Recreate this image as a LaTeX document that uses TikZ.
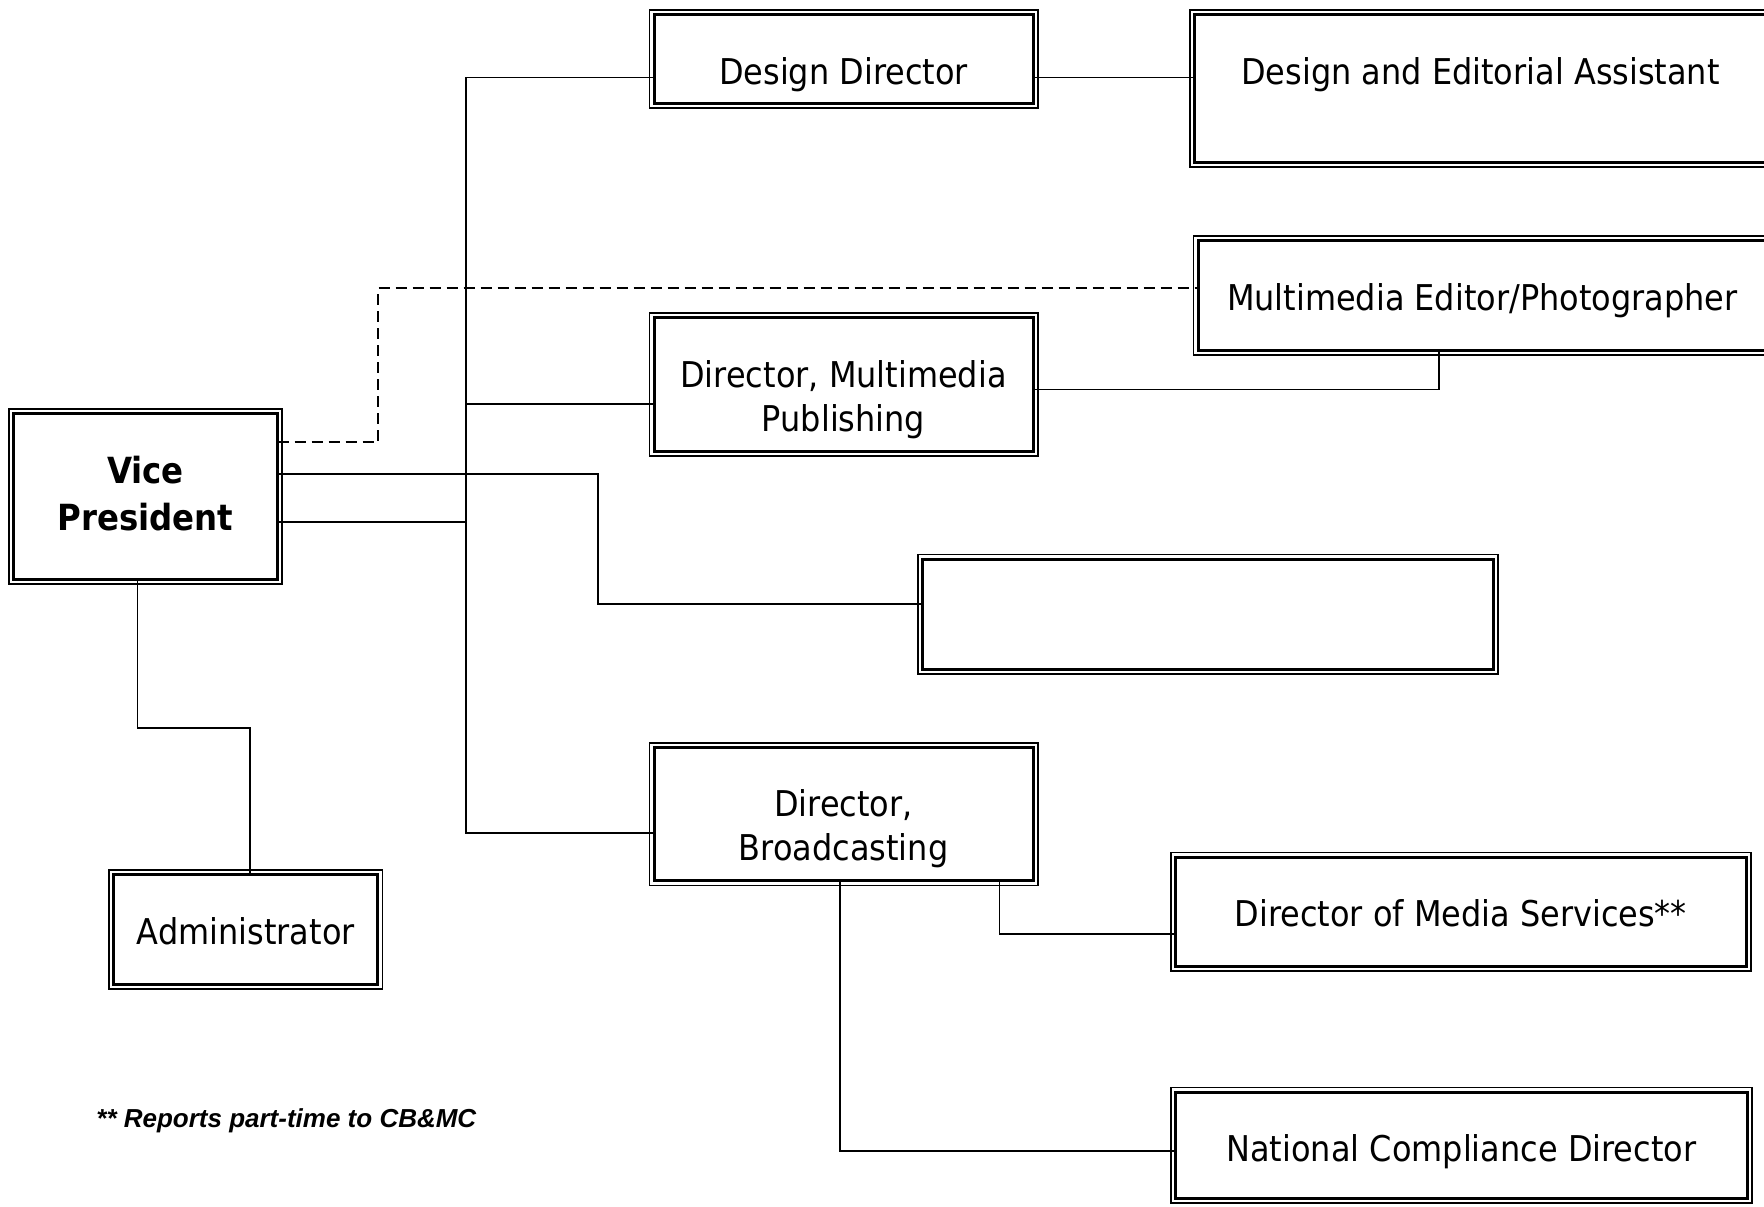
\documentclass[tikz,border=0pt]{standalone}
\usepackage{fontspec}
\setmainfont{DejaVu Sans}[FakeStretch=0.9]
\newfontfamily\notefont{Liberation Sans}

\begin{document}
\begin{tikzpicture}[x=0.5pt,y=-0.5pt,
  role/.style={draw,fill=white,line width=1.5pt,outer sep=0pt,
    preaction={draw,line width=5.5pt},
    preaction={draw=white,line width=3.9pt},
    anchor=north,yshift=-2.75pt,inner sep=0pt,align=center,
    text height=34.75pt,font=\fontsize{17.75}{22}\selectfont},
  link/.style={line width=0.75pt}]
\path[use as bounding box,clip] (0,0) rectangle (1764,1206);
\node[role,minimum width=132pt,text height=58.25pt,text depth=24.75pt,font=\bfseries\fontsize{18}{23.5}\selectfont] (vp) at (145.5,408) {Vice\\President};
\node[role,minimum width=132pt,text depth=20.25pt] (admin) at (245.8,869) {Administrator};
\node[role,minimum width=189.5pt,text depth=9.75pt] (dd) at (843.5,9) {Design Director};
\node[role,minimum width=286pt,text depth=39.25pt] (dea) at (1480.5,9) {Design and Editorial Assistant};
\node[role,minimum width=284.25pt,text depth=20pt] (mep) at (1482.25,235) {Multimedia Editor/Photographer};
\node[role,minimum width=189.5pt,text height=57pt,text depth=10pt] (dmp) at (843.5,312) {Director, Multimedia\\Publishing};
\node[role,minimum width=285.25pt,text depth=20.5pt] (blank) at (1207.75,553.5) {};
\node[role,minimum width=189.5pt,text height=56.5pt,text depth=10.15pt] (db) at (843.5,742) {Director,\\Broadcasting};
\node[role,minimum width=285.3pt,text depth=19.95pt] (dms) at (1460.8,851.6) {Director of Media Services**};
\node[role,minimum width=285.85pt,text depth=18.4pt] (ncd) at (1461.4,1086.75) {National Compliance Director};
\node[anchor=base west,inner sep=0pt,font=\notefont\bfseries\itshape\fontsize{13}{15}\selectfont] (note) at (96,1127) {** Reports part-time to CB\&MC};
\coordinate (trunk) at (466,455);
\coordinate (jog) at (598,540);
\coordinate (dashjog) at (378,360);
\coordinate (adminjog) at (190,728);
\draw[link] ([yshift=-9.3pt]dd.west) -| (trunk) |- ([yshift=-9.3pt]db.west);
\draw[link] ([yshift=-9.75pt]dmp.west) -| (trunk);
\draw[link] ([yshift=-12.75pt]vp.east) -| (trunk);
\draw[link] ([yshift=11.25pt]vp.east) -| (jog) |- ([yshift=5.1pt]blank.west);
\draw[link,dash pattern=on 5.5pt off 3pt] ([yshift=27.25pt]vp.east) -| (dashjog) |- ([yshift=3.6pt]mep.west);
\draw[link] ([yshift=-9.3pt]dd.east) -- ([yshift=5.45pt]dea.west);
\draw[link] ([yshift=-2.4pt]dmp.east) -| ([xshift=-21.6pt]mep.south);
\draw[link] ([xshift=77.9pt]db.south) |- ([yshift=-11pt]dms.west);
\draw[link] ([xshift=-1.75pt]db.south) |- ([yshift=-2.8pt]ncd.west);
\draw[link] ([xshift=-4pt]vp.south) |- (adminjog) -| ([xshift=2.1pt]admin.north);
\end{tikzpicture}
\end{document}
